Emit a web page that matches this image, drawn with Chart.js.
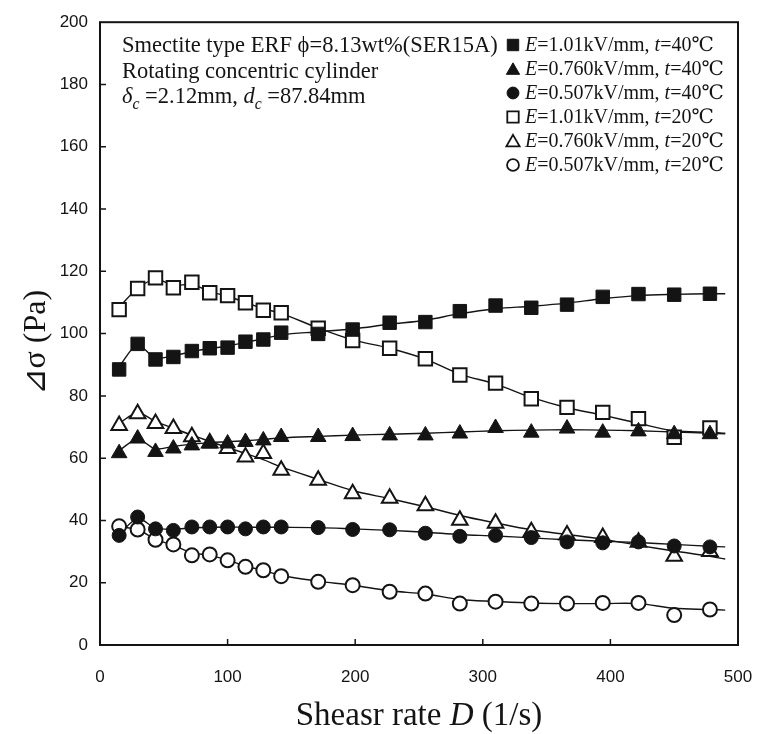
<!DOCTYPE html>
<html lang="en">
<head>
    <meta charset="UTF-8">
    <title>ERF shear stress vs shear rate</title>
    <script src="https://cdn.jsdelivr.net/npm/chart.js"></script>
    <style>
        body {
            margin: 0;
            padding: 0;
            background: #fff;
        }
    </style>
</head>
<body>
    <canvas id="chartCanvas" width="759" height="734"></canvas>

    <script>
        // shear rate D (1/s), shared by all six runs
        const shearRate = [15, 29.5, 43.5, 57.5, 72, 86, 100, 114, 128, 142, 171, 198, 227, 255, 282, 310, 338, 366, 394, 422, 450, 478];

        // measured delta sigma (Pa)
        const e101_40 = [88.5, 96.7, 91.7, 92.5, 94.4, 95.3, 95.5, 97.4, 98.1, 100.3, 99.9, 101.3, 103.5, 103.7, 107.2, 109.0, 108.3, 109.3, 111.8, 112.7, 112.5, 112.8];
        const e076_40 = [61.6, 66.3, 62.0, 63.1, 64.1, 64.7, 64.7, 65.2, 65.7, 66.8, 66.8, 67.1, 67.3, 67.3, 67.9, 69.7, 68.2, 69.5, 68.2, 68.6, 67.7, 67.7];
        const e051_40 = [35.2, 41.1, 37.3, 36.8, 37.9, 37.9, 37.9, 37.3, 37.9, 37.9, 37.7, 37.1, 37.0, 35.9, 34.9, 35.2, 34.5, 33.1, 32.8, 33.1, 31.8, 31.5];
        const e101_20 = [107.7, 114.5, 117.9, 114.7, 116.5, 113.1, 112.2, 109.9, 107.5, 106.7, 101.7, 97.8, 95.3, 91.9, 86.7, 84.1, 79.1, 76.3, 74.7, 72.7, 66.7, 69.7];
        const e076_20 = [70.5, 74.3, 71.1, 69.5, 66.9, 64.9, 63.1, 60.4, 61.5, 56.1, 52.9, 48.6, 47.1, 44.7, 40.1, 39.1, 36.4, 35.3, 34.5, 33.0, 28.5, 30.0];
        const e051_20 = [38.1, 37.1, 33.8, 32.3, 28.8, 29.1, 27.2, 25.1, 24.0, 22.1, 20.3, 19.2, 17.1, 16.5, 13.3, 13.9, 13.3, 13.3, 13.5, 13.5, 9.6, 11.4];

        // smoothed curves through each run
        const fitRate = [15, 29.5, 43.5, 57.5, 72, 86, 100, 114, 128, 142, 171, 198, 227, 255, 282, 310, 338, 366, 394, 422, 450, 478, 490];
        const fit101_40 = [89.5, 96.2, 92.2, 92.9, 94.2, 95.2, 96.0, 97.2, 98.3, 99.6, 100.6, 101.5, 103.0, 104.3, 106.4, 108.0, 108.8, 109.8, 111.2, 112.2, 112.6, 112.8, 112.8];
        const fit076_40 = [62.5, 66.0, 63.0, 63.8, 64.5, 65.0, 65.3, 65.6, 66.0, 66.5, 67.0, 67.4, 67.7, 68.0, 68.4, 68.8, 69.0, 69.1, 69.0, 68.8, 68.4, 68.0, 67.8];
        const fit051_40 = [35.5, 40.5, 37.6, 37.2, 37.6, 37.8, 37.9, 37.8, 37.8, 37.8, 37.7, 37.3, 36.8, 36.2, 35.5, 35.0, 34.4, 33.8, 33.3, 32.9, 32.3, 31.7, 31.5];
        const fit101_20 = [108.5, 114.5, 117.5, 115.5, 115.8, 113.5, 112.0, 110.0, 108.0, 106.5, 101.8, 98.0, 95.3, 91.8, 87.0, 83.8, 79.5, 76.2, 73.8, 71.2, 68.8, 68.3, 68.0];
        const fit076_20 = [71.2, 74.5, 71.8, 69.6, 67.4, 65.4, 63.4, 61.5, 59.5, 57.2, 53.2, 49.6, 47.0, 44.4, 41.6, 39.2, 37.0, 35.5, 34.0, 32.0, 30.2, 28.5, 27.6];
        const fit051_20 = [38.0, 37.0, 34.0, 32.0, 29.6, 28.8, 27.3, 25.3, 24.0, 22.3, 20.5, 19.2, 17.4, 16.4, 14.6, 14.0, 13.5, 13.3, 13.3, 13.3, 11.8, 11.4, 11.2];

        // legend text
        const fieldStrength = ['1.01', '0.760', '0.507', '1.01', '0.760', '0.507'];
        const temperature = ['40', '40', '40', '20', '20', '20'];

        const xTicks = [0, 100, 200, 300, 400, 500];
        const yTicks = [0, 20, 40, 60, 80, 100, 120, 140, 160, 180, 200];

        const serif = '"Liberation Serif", "DejaVu Serif", serif';
        const ink = '#141414';

        const series = [
            { y: e101_40, fit: fit101_40, style: 'rect', r: 9.5, filled: true },
            { y: e076_40, fit: fit076_40, style: 'triangle', r: 9, filled: true },
            { y: e051_40, fit: fit051_40, style: 'circle', r: 7, filled: true },
            { y: e101_20, fit: fit101_20, style: 'rect', r: 9.5, filled: false },
            { y: e076_20, fit: fit076_20, style: 'triangle', r: 9, filled: false },
            { y: e051_20, fit: fit051_20, style: 'circle', r: 7, filled: false }
        ];

        const toPoints = (xs, ys) => xs.map((x, i) => ({ x: x, y: ys[i] }));

        const datasets = [];
        series.forEach((s, i) => {
            datasets.push({
                label: `E=${fieldStrength[i]}kV/mm, t=${temperature[i]}℃`,
                data: toPoints(shearRate, s.y),
                showLine: false,
                pointStyle: s.style,
                pointRadius: s.r,
                pointHoverRadius: s.r,
                backgroundColor: s.filled ? ink : '#ffffff',
                borderColor: ink,
                borderWidth: s.filled ? 1 : 2,
                order: s.filled ? 1 : 2
            });
        });
        series.forEach((s, i) => {
            datasets.push({
                label: 'fit ' + i,
                data: toPoints(fitRate, s.fit),
                showLine: true,
                pointRadius: 0,
                borderColor: ink,
                borderWidth: 1.4,
                tension: 0.35,
                fill: false,
                order: 3
            });
        });

        // draw a line of text made of normal / italic / subscript pieces
        function textRuns(ctx, x, y, parts, size, align) {
            const fontOf = p => `${p.i ? 'italic ' : ''}${p.sub ? size * 0.7 : size}px ${serif}`;
            let total = 0;
            parts.forEach(p => { ctx.font = fontOf(p); total += ctx.measureText(p.t).width; });
            let cx = align === 'center' ? x - total / 2 : x;
            ctx.textAlign = 'left';
            ctx.textBaseline = 'alphabetic';
            parts.forEach(p => {
                ctx.font = fontOf(p);
                ctx.fillText(p.t, cx, p.sub ? y + size * 0.25 : y);
                cx += ctx.measureText(p.t).width;
            });
        }

        const decor = {
            id: 'decor',
            afterDraw(chart) {
                const { ctx, chartArea: a, scales: { x, y } } = chart;
                ctx.save();
                ctx.strokeStyle = ink;
                ctx.fillStyle = ink;

                // frame
                ctx.lineWidth = 2;
                ctx.strokeRect(a.left, a.top, a.right - a.left, a.bottom - a.top);

                // inward tick marks
                ctx.lineWidth = 1.5;
                ctx.beginPath();
                xTicks.slice(1, -1).forEach(v => {
                    const px = x.getPixelForValue(v);
                    ctx.moveTo(px, a.bottom);
                    ctx.lineTo(px, a.bottom - 6);
                });
                yTicks.slice(1, -1).forEach(v => {
                    const py = y.getPixelForValue(v);
                    ctx.moveTo(a.left, py);
                    ctx.lineTo(a.left + 6, py);
                });
                ctx.stroke();

                // annotation, top left
                const tx = a.left + 22;
                textRuns(ctx, tx, 52, [{ t: 'Smectite type ERF ' }, { t: 'ϕ' }, { t: '=8.13wt%(SER15A)' }], 22.5);
                textRuns(ctx, tx, 78, [{ t: 'Rotating concentric cylinder' }], 22.5);
                textRuns(ctx, tx, 103, [{ t: 'δ', i: true }, { t: 'c', i: true, sub: true }, { t: ' =2.12mm, ' },
                    { t: 'd', i: true }, { t: 'c', i: true, sub: true }, { t: ' =87.84mm' }], 22.5);

                // legend, top right
                series.forEach((s, i) => {
                    const ly = 45 + i * 24;
                    const style = {
                        pointStyle: s.style,
                        radius: s.r * 0.85,
                        rotation: 0,
                        borderWidth: s.filled ? 1 : 1.8
                    };
                    ctx.fillStyle = s.filled ? ink : '#ffffff';
                    ctx.strokeStyle = ink;
                    ctx.lineWidth = style.borderWidth;
                    Chart.helpers.drawPoint(ctx, style, 513, s.style === 'triangle' ? ly + 1.5 : ly);
                    ctx.fillStyle = ink;
                    textRuns(ctx, 525, ly + 6, [{ t: 'E', i: true }, { t: `=${fieldStrength[i]}kV/mm, ` },
                        { t: 't', i: true }, { t: `=${temperature[i]}℃` }], 20);
                });

                // axis titles
                textRuns(ctx, (a.left + a.right) / 2, 725, [{ t: 'Sheasr rate ' }, { t: 'D', i: true }, { t: ' (1/s)' }], 33, 'center');
                ctx.translate(45, (a.top + a.bottom) / 2 + 9);
                ctx.rotate(-Math.PI / 2);
                textRuns(ctx, 0, 0, [{ t: '⊿σ' }, { t: ' (Pa)' }], 32, 'center');

                ctx.restore();
            }
        };

        const chart = new Chart(document.getElementById('chartCanvas'), {
            type: 'scatter',
            data: { datasets: datasets },
            plugins: [decor],
            options: {
                responsive: false,
                animation: false,
                layout: { padding: { left: 0, right: 21, top: 20, bottom: 0 } },
                plugins: {
                    legend: { display: false },
                    tooltip: { enabled: false }
                },
                scales: {
                    x: {
                        type: 'linear',
                        min: 0,
                        max: 500,
                        afterBuildTicks: s => { s.ticks = xTicks.map(v => ({ value: v })); },
                        afterFit: s => { s.height = 89; s.paddingLeft = 0; s.paddingRight = 0; },
                        grid: { display: false, drawTicks: false },
                        border: { display: false },
                        ticks: {
                            padding: 22,
                            maxRotation: 0,
                            color: ink,
                            font: { family: '"Liberation Sans", Arial, sans-serif', size: 17 }
                        }
                    },
                    y: {
                        type: 'linear',
                        min: 0,
                        max: 200,
                        afterBuildTicks: s => { s.ticks = yTicks.map(v => ({ value: v })); },
                        afterFit: s => { s.width = 100; },
                        grid: { display: false, drawTicks: false },
                        border: { display: false },
                        ticks: {
                            padding: 12,
                            color: ink,
                            font: { family: '"Liberation Sans", Arial, sans-serif', size: 17 }
                        }
                    }
                }
            }
        });
    </script>
</body>
</html>
